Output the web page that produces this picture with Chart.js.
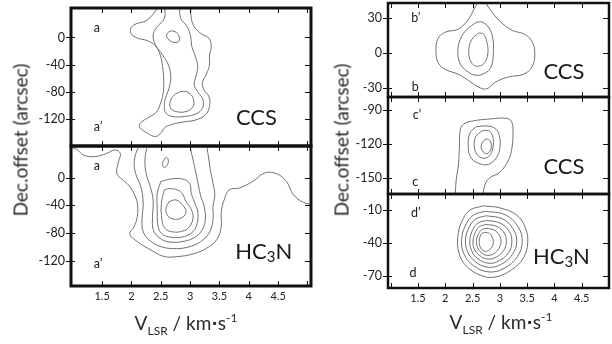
<!DOCTYPE html>
<html>
<head>
<meta charset="utf-8">
<script src="https://cdn.jsdelivr.net/npm/chart.js@4.4.1/dist/chart.umd.min.js"></script>
<style>
  body { margin: 0; width: 612px; height: 344px; background: #fff; position: relative; overflow: hidden; font-family: Lato, sans-serif; color: #2a2a2a; }
  canvas { position: absolute; }
  .ytitle { position: absolute; font-size: 19px; white-space: nowrap; transform: translate(-50%, -50%) rotate(-90deg); }
  .xtitle { position: absolute; font-size: 19px; white-space: nowrap; transform: translate(-50%, -50%); }
  .xtitle .sub { font-size: 12px; position: relative; top: 5px; }
  .xtitle .sup { font-size: 12px; position: relative; top: -8px; }
  .xtitle .dot { font-size: 11px; position: relative; top: -3px; padding: 0 1px; }
</style>
</head>
<body>
<script>
// velocity axis
const velTicks = [1.5, 2, 2.5, 3, 3.5, 4, 4.5];
const velMarks = [1, 1.5, 2, 2.5, 3, 3.5, 4, 4.5, 5];
// offset axes
const offTicksLeft = [-120, -80, -40, 0];
const offTicksB = [-30, 0, 30];
const offTicksC = [-150, -120, -90];
const offTicksD = [-70, -40, -10];

// panel a-a' CCS contours  [v, offset]
const ccsA1 = [[2.47,46],[2.27,25.7],[2.04,18.4],[1.98,8.6],[2.07,0.2],[2.27,-4.7],[2.41,-12.5],[2.49,-25.7],[2.53,-42.9],[2.55,-62.5],[2.54,-82.1],[2.48,-100.7],[2.42,-110.5],[2.30,-117.4],[2.16,-125.3],[2.14,-132.1],[2.27,-140.9],[2.41,-145.8],[2.51,-139.9],[2.57,-132.6],[2.70,-127.7],[2.90,-124.3],[3.10,-121.3],[3.26,-114.0],[3.33,-101.7],[3.32,-87.0],[3.23,-76.2],[3.21,-66.4],[3.28,-53.7],[3.33,-40.4],[3.33,-25.7],[3.36,-13.5],[3.32,-1.2],[3.18,6.1],[3.07,15.9],[3.02,28.2],[3.01,46]];
const ccsA2 = [[2.57,46],[2.56,28.2],[2.44,15.9],[2.37,3.7],[2.41,-11.0],[2.53,-25.7],[2.63,-40.4],[2.67,-57.6],[2.64,-74.8],[2.58,-89.5],[2.56,-101.7],[2.59,-111.5],[2.70,-116.4],[2.90,-116.4],[3.10,-112.5],[3.21,-104.2],[3.22,-91.9],[3.14,-81.1],[3.07,-69.9],[3.10,-56.6],[3.13,-42.9],[3.09,-28.2],[3.03,-13.5],[3.01,1.2],[2.95,15.9],[2.84,28.2],[2.82,46]];
const ccsA3 = [[2.84,-79.7],[2.73,-84.6],[2.66,-94.4],[2.67,-104.2],[2.76,-109.1],[2.93,-109.1],[3.05,-101.7],[3.06,-91.9],[3.02,-84.6],[2.93,-79.7],[2.84,-79.7]];
const ccsA4 = [[2.64,8.6],[2.60,3.7],[2.64,-3.7],[2.76,-7.6],[2.82,-3.7],[2.78,6.1],[2.70,9.6],[2.64,8.6]];

// panel a-a' HC3N contours
const hcB1 = [[0.95,44],[1.07,41.0],[1.18,32.8],[1.38,30.4],[1.58,35.2],[1.72,40.0],[1.81,35.2],[1.78,23.1],[1.75,6.3],[1.84,-2.4],[1.95,-10.6],[2.04,-22.6],[2.10,-37.0],[2.10,-56.3],[2.04,-71.7],[1.97,-81.3],[2.10,-92.4],[2.33,-104.4],[2.56,-114.0],[2.79,-114.0],[3.05,-110.2],[3.28,-102.0],[3.45,-90.0],[3.53,-70.7],[3.53,-49.1],[3.59,-29.8],[3.67,-17.3],[3.84,-14.9],[4.07,-5.2],[4.27,6.8],[4.47,5.8],[4.64,-5.2],[4.76,-24.5],[4.93,-35.6],[5.14,-39.0]];
const hcB2 = [[2.13,48],[2.05,25.6],[2.07,6.3],[2.16,-12.9],[2.20,-37.0],[2.18,-61.1],[2.20,-77.9],[2.30,-90.0],[2.47,-98.7],[2.70,-102.5],[2.96,-100.5],[3.18,-92.4],[3.32,-80.3],[3.39,-61.1],[3.39,-41.8],[3.42,-25.0],[3.39,-8.1],[3.35,8.7],[3.32,25.6],[3.28,48]];
const hcB3 = [[2.27,48],[2.23,25.6],[2.25,6.3],[2.32,-12.9],[2.37,-32.2],[2.36,-56.3],[2.37,-74.6],[2.47,-86.6],[2.64,-92.9],[2.90,-91.9],[3.10,-85.1],[3.22,-73.1],[3.26,-58.6],[3.24,-41.8],[3.18,-26.4],[3.14,-10.5],[3.10,6.3],[3.05,25.6],[2.99,48]];
const hcB4 = [[2.50,-5.7],[2.44,-22.6],[2.44,-46.6],[2.45,-68.3],[2.51,-80.3],[2.67,-86.1],[2.90,-85.1],[3.05,-77.9],[3.12,-65.9],[3.13,-49.1],[3.07,-34.6],[3.02,-22.6],[2.99,-8.1],[2.87,-1.9],[2.67,-1.9],[2.50,-5.7]];
const hcB5 = [[2.56,-17.8],[2.51,-37.0],[2.52,-61.1],[2.57,-73.1],[2.70,-78.4],[2.90,-76.5],[3.01,-68.3],[3.05,-56.3],[3.01,-44.2],[2.93,-34.6],[2.87,-23.5],[2.79,-17.8],[2.64,-15.9],[2.56,-17.8]];
const hcB6 = [[2.64,-34.6],[2.59,-44.2],[2.61,-53.9],[2.73,-60.1],[2.87,-57.2],[2.93,-49.0],[2.87,-39.4],[2.76,-32.2],[2.64,-34.6]];
const hcB7 = [[2.57,28.0],[2.53,20.7],[2.55,15.0],[2.60,16.9],[2.63,24.6],[2.60,29.4],[2.57,28.0]];

// panel b-b' CCS
const ccsC1 = [[2.64,46],[2.54,38.5],[2.42,28.4],[2.24,20.3],[1.99,17.4],[1.86,11.6],[1.83,0.9],[1.87,-8.7],[2.01,-14.5],[2.24,-18.5],[2.42,-23.7],[2.61,-29.5],[2.76,-31.0],[2.92,-25.2],[3.16,-20.8],[3.43,-18.5],[3.59,-12.2],[3.64,-0.6],[3.59,9.6],[3.45,15.9],[3.23,19.1],[3.00,27.0],[2.82,37.1],[2.70,46]];
const ccsC2 = [[2.57,26.1],[2.39,19.7],[2.27,11.0],[2.23,0.9],[2.27,-9.2],[2.39,-15.6],[2.57,-19.4],[2.76,-16.5],[2.85,-10.7],[2.88,-0.6],[2.87,12.5],[2.79,22.0],[2.68,26.1],[2.57,26.1]];
const ccsC3 = [[2.61,16.8],[2.48,11.0],[2.43,0.9],[2.47,-7.8],[2.57,-11.6],[2.71,-9.2],[2.78,-0.6],[2.76,9.6],[2.70,16.0],[2.61,16.8]];

// panel c-c' CCS
const ccsD1 = [[2.18,-168],[2.20,-152.0],[2.24,-138.7],[2.26,-121.0],[2.27,-109.2],[2.33,-102.7],[2.51,-99.7],[2.82,-98.0],[3.12,-97.4],[3.22,-100.9],[3.24,-112.2],[3.22,-124.0],[3.16,-134.3],[3.00,-145.2],[2.82,-150.0],[2.73,-155.9],[2.68,-168]];
const ccsD2 = [[2.57,-104.8],[2.45,-110.7],[2.42,-121.0],[2.46,-131.4],[2.61,-137.3],[2.79,-138.2],[2.93,-132.8],[3.00,-124.0],[2.99,-112.7],[2.91,-106.2],[2.76,-104.2],[2.57,-104.8]];
const ccsD3 = [[2.67,-108.6],[2.56,-113.6],[2.53,-121.6],[2.58,-129.3],[2.70,-132.8],[2.82,-129.9],[2.88,-121.0],[2.86,-112.2],[2.79,-108.3],[2.67,-108.6]];
const ccsD4 = [[2.73,-116.0],[2.66,-121.0],[2.68,-126.3],[2.76,-128.7],[2.83,-125.4],[2.84,-119.5],[2.79,-116.0],[2.73,-116.0]];

// panel d-d' HC3N
const hcE1 = [[2.70,-6.4],[3.00,-8.2],[3.31,-14.8],[3.47,-26.6],[3.51,-40.0],[3.43,-53.4],[3.22,-63.8],[2.91,-70.6],[2.64,-68.8],[2.39,-60.8],[2.25,-48.9],[2.23,-34.1],[2.30,-20.7],[2.45,-10.3],[2.70,-6.4]];
const hcE2 = [[2.74,-11.2],[3.10,-14.5],[3.33,-24.9],[3.41,-38.6],[3.32,-52.2],[3.08,-62.6],[2.80,-65.9],[2.52,-60.4],[2.34,-49.5],[2.30,-35.8],[2.39,-22.1],[2.52,-14.5],[2.74,-11.2]];
const hcE3 = [[2.75,-15.3],[3.05,-18.1],[3.24,-26.9],[3.31,-38.5],[3.23,-50.1],[3.03,-58.9],[2.79,-61.7],[2.56,-57.1],[2.41,-47.8],[2.37,-36.2],[2.45,-24.6],[2.56,-18.1],[2.75,-15.3]];
const hcE4 = [[2.76,-19.5],[3.00,-21.8],[3.17,-29.2],[3.22,-38.8],[3.16,-48.5],[2.99,-55.8],[2.80,-58.1],[2.60,-54.2],[2.48,-46.5],[2.45,-36.9],[2.51,-27.2],[2.60,-21.8],[2.76,-19.5]];
const hcE5 = [[2.75,-23.1],[2.95,-25.0],[3.08,-30.9],[3.12,-38.7],[3.07,-46.5],[2.94,-52.4],[2.78,-54.3],[2.63,-51.2],[2.53,-45.0],[2.51,-37.1],[2.56,-29.3],[2.63,-25.0],[2.75,-23.1]];
const hcE6 = [[2.75,-26.6],[2.89,-28.1],[2.99,-32.7],[3.02,-38.8],[2.98,-44.9],[2.89,-49.5],[2.77,-51.0],[2.66,-48.6],[2.59,-43.7],[2.57,-37.6],[2.61,-31.5],[2.66,-28.1],[2.75,-26.6]];
const hcE7 = [[2.72,-30.2],[2.81,-31.2],[2.86,-34.5],[2.88,-38.8],[2.86,-43.1],[2.80,-46.4],[2.74,-47.4],[2.67,-45.7],[2.63,-42.2],[2.62,-37.9],[2.64,-33.6],[2.67,-31.2],[2.72,-30.2]];

const FONT = 'Lato, sans-serif';

// frame, inward tick marks and panel labels
const framePlugin = {
  id: 'frame',
  afterDatasetsDraw(chart, args, opts) {
    const { ctx, chartArea: a, scales: { x, y } } = chart;
    ctx.save();
    ctx.strokeStyle = '#111';
    ctx.lineWidth = 1;
    ctx.beginPath();
    velMarks.forEach(v => {
      const px = Math.round(x.getPixelForValue(v)) + 0.5;
      if (px < a.left + 3 || px > a.right - 3) return;
      ctx.moveTo(px, a.bottom); ctx.lineTo(px, a.bottom - 5);
      ctx.moveTo(px, a.top); ctx.lineTo(px, a.top + 5);
    });
    opts.yMarks.forEach(v => {
      const py = Math.round(y.getPixelForValue(v)) + 0.5;
      ctx.moveTo(a.left - 5, py); ctx.lineTo(a.left + 4, py);
      ctx.moveTo(a.right, py); ctx.lineTo(a.right - 6, py);
    });
    ctx.stroke();
    ctx.lineWidth = opts.border;
    ctx.strokeRect(a.left, a.top, a.right - a.left, a.bottom - a.top);

    ctx.fillStyle = '#1a1a1a';
    ctx.textBaseline = 'middle';
    opts.tags.forEach(tag => {
      let w = 0;
      tag.parts.forEach(([s, size]) => { ctx.font = size + 'px ' + FONT; w += ctx.measureText(s).width; });
      let px = x.getPixelForValue(tag.v);
      const py = y.getPixelForValue(tag.o);
      px = tag.align === 'right' ? px - w : px - w / 2;
      tag.parts.forEach(([s, size, dy]) => {
        ctx.font = size + 'px ' + FONT;
        ctx.fillText(s, px, py + (dy || 0));
        px += ctx.measureText(s).width;
      });
    });
    ctx.restore();
  }
};

function makePanel(p) {
  const [l, t, r, b] = p.frame;
  const padB = p.showX ? 0 : 2;
  const xh = p.showX ? 26 : 0;
  const cv = document.createElement('canvas');
  cv.width = r - p.left + 2;
  cv.height = b - t + 2 + padB + xh;
  cv.style.left = p.left + 'px';
  cv.style.top = (t - 2) + 'px';
  document.body.appendChild(cv);

  new Chart(cv, {
    type: 'scatter',
    data: {
      datasets: p.lines.map(pts => ({
        data: pts.map(([vx, vy]) => ({ x: vx, y: vy })),
        showLine: true,
        borderColor: '#707070',
        borderWidth: 1,
        pointRadius: 0,
        tension: 0.4
      }))
    },
    options: {
      responsive: false,
      animation: false,
      events: [],
      layout: { padding: { top: 2, right: 2, bottom: padB, left: 0 } },
      plugins: {
        legend: { display: false },
        tooltip: { enabled: false },
        frame: { yMarks: p.yTicks, tags: p.tags, border: p.border }
      },
      scales: {
        x: {
          type: 'linear', min: p.x[0], max: p.x[1],
          afterBuildTicks: s => { s.ticks = velTicks.map(v => ({ value: v })); },
          ticks: { display: p.showX, autoSkip: false, maxRotation: 0, padding: 4, color: '#222', font: { family: FONT, size: 11 }, callback: v => String(v) },
          grid: { display: false, drawTicks: false },
          border: { display: false },
          afterFit: s => { s.height = xh; s.paddingLeft = 0; s.paddingRight = 0; }
        },
        y: {
          type: 'linear', min: p.y[0], max: p.y[1],
          afterBuildTicks: s => { s.ticks = p.yTicks.map(v => ({ value: v })); },
          ticks: { padding: p.yPad, color: '#222', font: { family: FONT, size: 12.5 }, callback: v => String(v) },
          grid: { display: false, drawTicks: false },
          border: { display: false },
          afterFit: s => { s.width = l - p.left; s.paddingTop = 0; s.paddingBottom = 0; }
        }
      }
    },
    plugins: [framePlugin]
  });
}

makePanel({ left: 0, frame: [71, 8, 311, 146], x: [0.97, 5.06], y: [-159.8, 43.4], yTicks: offTicksLeft, yPad: 6, border: 3, showX: false,
  lines: [ccsA1, ccsA2, ccsA3, ccsA4],
  tags: [
    { parts: [['a', 12.5]], v: 1.41, o: 14.0 },
    { parts: [['a\u2019', 12.5]], v: 1.43, o: -131.8 },
    { parts: [['CCS', 22]], v: 4.48, o: -118.6, align: 'right' }
  ] });
makePanel({ left: 0, frame: [71, 146, 311, 286], x: [0.97, 5.06], y: [-156.6, 45.8], yTicks: offTicksLeft, yPad: 6, border: 3, showX: true,
  lines: [hcB1, hcB2, hcB3, hcB4, hcB5, hcB6, hcB7],
  tags: [
    { parts: [['a', 12.5]], v: 1.41, o: 16.9 },
    { parts: [['a\u2019', 12.5]], v: 1.43, o: -124.7 },
    { parts: [['HC', 22], ['3', 15, 5], ['N', 22]], v: 4.74, o: -107.4, align: 'right' }
  ] });
makePanel({ left: 330, frame: [388, 3, 609, 97], x: [0.95, 5.0], y: [-38, 42.6], yTicks: offTicksB, yPad: 6, border: 2.5, showX: false,
  lines: [ccsC1, ccsC2, ccsC3],
  tags: [
    { parts: [['b\u2019', 12.5]], v: 1.46, o: 29.7 },
    { parts: [['b', 12.5]], v: 1.45, o: -29.4 },
    { parts: [['CCS', 22]], v: 4.55, o: -16.5, align: 'right' }
  ] });
makePanel({ left: 330, frame: [388, 97, 609, 194], x: [0.95, 5.0], y: [-164.5, -78.5], yTicks: offTicksC, yPad: 6, border: 2.5, showX: false,
  lines: [ccsD1, ccsD2, ccsD3, ccsD4],
  tags: [
    { parts: [['c\u2019', 12.5]], v: 1.48, o: -94.4 },
    { parts: [['c', 12.5]], v: 1.45, o: -153.8 },
    { parts: [['CCS', 22]], v: 4.55, o: -140.5, align: 'right' }
  ] });
makePanel({ left: 330, frame: [388, 194, 609, 288], x: [0.95, 5.0], y: [-80.4, 4.3], yTicks: offTicksD, yPad: 6, border: 2.5, showX: true,
  lines: [hcE1, hcE2, hcE3, hcE4, hcE5, hcE6, hcE7],
  tags: [
    { parts: [['d\u2019', 12.5]], v: 1.46, o: -12.7 },
    { parts: [['d', 12.5]], v: 1.41, o: -67.0 },
    { parts: [['HC', 22], ['3', 15, 5], ['N', 22]], v: 4.65, o: -52.8, align: 'right' }
  ] });
</script>
<div class="ytitle" style="left:20px;top:140px;">Dec.offset (arcsec)</div>
<div class="ytitle" style="left:341px;top:140px;">Dec.offset (arcsec)</div>
<div class="xtitle" style="left:186px;top:322px;">V<span class="sub">LSR</span> / km<span class="dot">&#9642;</span>s<span class="sup">-1</span></div>
<div class="xtitle" style="left:501px;top:321px;">V<span class="sub">LSR</span> / km<span class="dot">&#9642;</span>s<span class="sup">-1</span></div>
</body>
</html>
